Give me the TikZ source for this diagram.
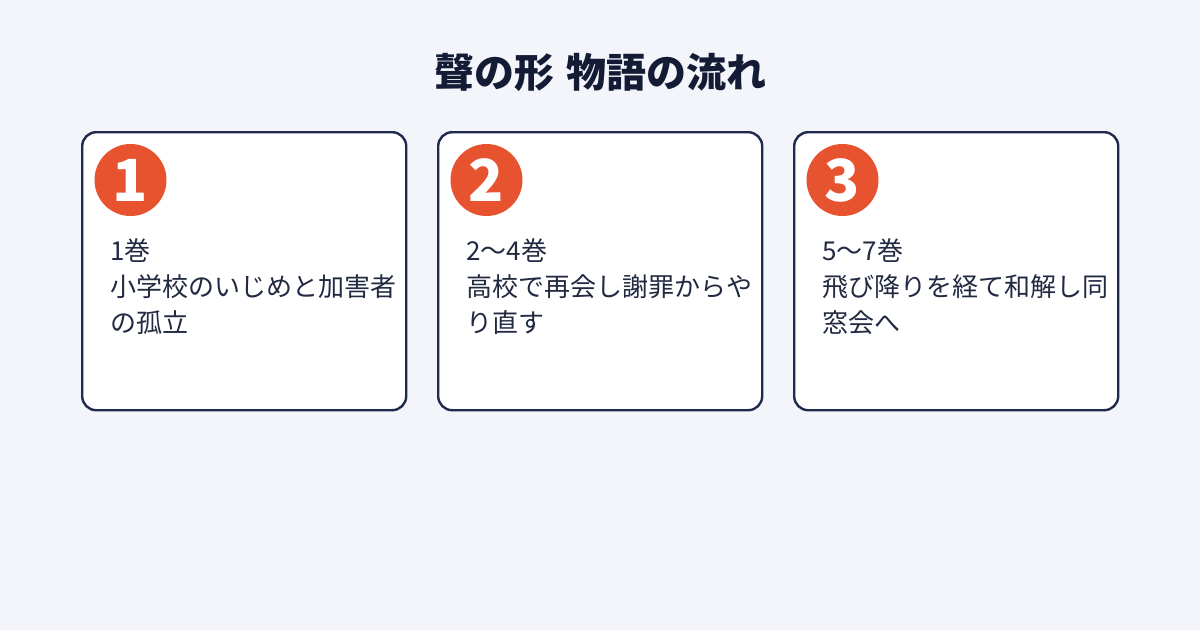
\documentclass[tikz,border=0pt]{standalone}
\usepackage{fontspec}
\setmainfont{Noto Sans CJK JP}
\definecolor{bgcol}{HTML}{F4F5FA}
\definecolor{navy}{HTML}{1F2A4D}
\definecolor{ink}{HTML}{141B34}
\definecolor{bodyink}{HTML}{222A42}
\definecolor{accent}{HTML}{E8532F}

\begin{document}
\begin{tikzpicture}[x=1pt, y=-1pt,
	card/.style={draw=navy, fill=white, line width=2.4pt, rounded corners=14pt,
		minimum width=324pt, minimum height=278pt, anchor=north west, inner sep=0pt},
	badge/.style={circle, fill=accent, text=white, minimum size=72pt, inner sep=0pt,
		font=\fontsize{58}{58}\selectfont\bfseries},
	body/.style={anchor=north west, align=left, inner sep=0pt, text=bodyink,
		font=\fontsize{26}{36}\selectfont}]
		\fill[bgcol] (0,0) rectangle (1200,630);
		\useasboundingbox (0,0) rectangle (1200,630);
		\node[text=ink, font=\fontsize{40}{40}\selectfont\bfseries] (title) at (600,72) {聲の形\hspace{0.3em}物語の流れ};
		\foreach \n/\x/\txt in {1/81/{1巻\\小学校のいじめと加害者\\の孤立},
			2/437/{2〜4巻\\高校で再会し謝罪からや\\り直す},
			3/793/{5〜7巻\\飛び降りを経て和解し同\\窓会へ}} {
			\node[card] (card\n) at (\x,131) {};
			\node[badge] (num\n) at (\x+49.5,180) {\n};
			\node[body] (text\n) at (\x+29,238) {\txt};
		}
	\end{tikzpicture}
\end{document}
